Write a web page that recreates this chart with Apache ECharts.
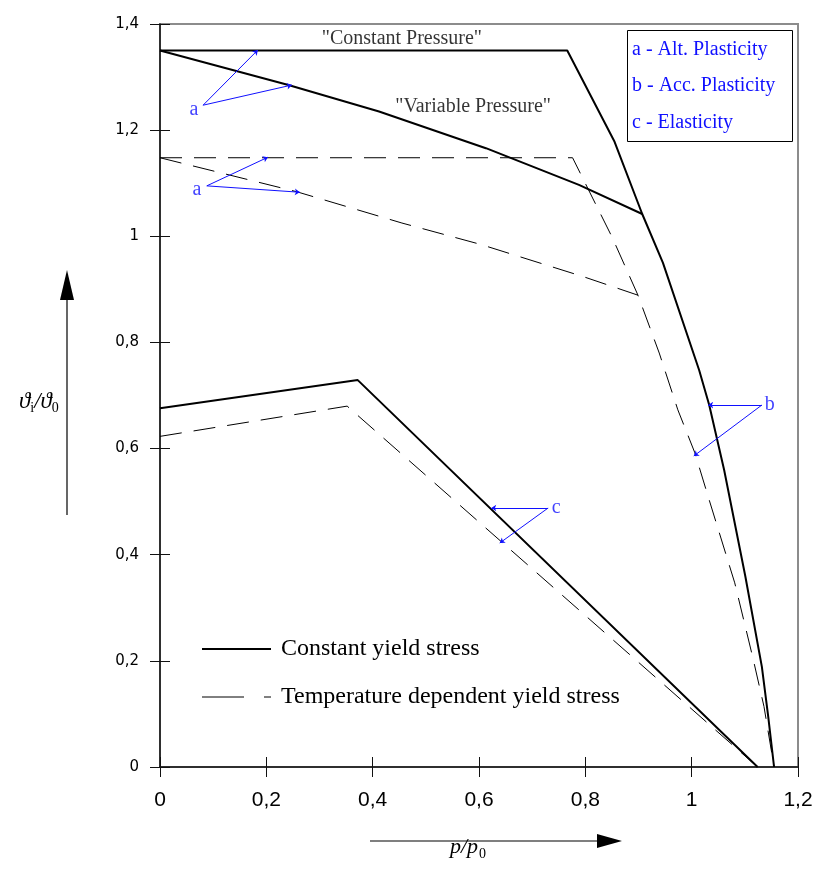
<!DOCTYPE html>
<html><head><meta charset="utf-8">
<script src="https://cdn.jsdelivr.net/npm/echarts@6/dist/echarts.min.js"></script>
<style>html,body{margin:0;padding:0;background:#fff}#c{width:817px;height:876px}</style>
</head><body><div id="c"></div>
<script>
// axis ranges (p/p0 on x, theta_i/theta_0 on y)
const xRange = [0, 1.2];
const yRange = [0, 1.4];
const tickStep = 0.2;

// Constant yield stress (solid)
const solidConstantPressure = [[0,1.35],[0.766,1.35],[0.855,1.178],[0.907,1.042],[0.946,0.95],[1.014,0.748],[1.033,0.682],[1.061,0.56],[1.101,0.359],[1.132,0.189],[1.144,0.095],[1.155,0]];
const solidVariablePressure = [[0,1.35],[0.2415,1.285],[0.412,1.235],[0.613,1.166],[0.788,1.097],[0.907,1.042]];
const solidElasticity = [[0,0.676],[0.372,0.729],[1.124,0]];

// Temperature dependent yield stress (dashed)
const dashedConstantPressure = [[0,1.148],[0.776,1.148],[0.851,0.997],[0.899,0.889],[0.939,0.78],[0.974,0.673],[1.006,0.592],[1.033,0.503],[1.081,0.347],[1.116,0.202],[1.136,0.114],[1.155,0]];
const dashedVariablePressure = [[0,1.148],[0.257,1.084],[0.455,1.025],[0.602,0.985],[0.796,0.924],[0.899,0.889]];
const dashedElasticity = [[0,0.623],[0.352,0.68],[1.124,0]];

// legend names
const seriesNames = ['Constant yield stress', 'Temperature dependent yield stress'];

// curve captions [text, x, y]
const curveCaptions = [['"Constant Pressure"', 0.455, 1.372], ['"Variable Pressure"', 0.589, 1.244]];

// regime letters [letter, x, y]
const regimeLetters = [['a',0.064,1.238],['a',0.0696,1.087],['b',1.147,0.682],['c',0.745,0.488]];
// pointer arrows [[from],[to]]
const regimeArrows = [
  [[0.081,1.247],[0.184,1.351]], [[0.081,1.247],[0.248,1.285]],
  [[0.088,1.095],[0.203,1.149]], [[0.088,1.095],[0.263,1.083]],
  [[1.132,0.682],[1.031,0.682]], [[1.132,0.682],[1.004,0.586]],
  [[0.730,0.488],[0.623,0.488]], [[0.730,0.488],[0.639,0.422]]
];
// key box lines
const regimeKey = ['a - Alt. Plasticity', 'b - Acc. Plasticity', 'c - Elasticity'];

const SERIF = 'Liberation Serif, Times New Roman, serif';
const BLUE = '#1010ff';
const fmt = v => String(+(+v).toFixed(1)).replace('.', ',');

function curve(name, data, dashed) {
  return {
    type: 'line', name: name, data: data, symbol: 'none', z: 3,
    lineStyle: dashed ? {color:'#000', width:1, type:[22,12]} : {color:'#000', width:2, type:'solid'},
    itemStyle: {color:'#000'}
  };
}

const chart = echarts.init(document.getElementById('c'), null, {renderer:'canvas'});
chart.setOption({
  animation: false,
  backgroundColor: '#fff',
  grid: {left:160, right:19, top:24, bottom:109, show:true, borderColor:'#8c8c8c', borderWidth:2, backgroundColor:'transparent'},
  title: {
    text: regimeKey.join('\n'),
    left: 627, top: 30,
    padding: [1, 17, 1, 5],
    borderColor: '#000', borderWidth: 1, backgroundColor:'#fff',
    textStyle: {color: BLUE, fontFamily: SERIF, fontSize: 20, fontWeight:'normal', lineHeight: 36.5}
  },
  legend: {
    orient: 'vertical', left: 201, top: 636, padding: 0, itemWidth: 69, itemHeight: 14, itemGap: 22,
    textStyle: {fontFamily: SERIF, fontSize: 24, color:'#000', lineHeight: 26, padding:[0,0,0,5]},
    data: [
      {name: seriesNames[0], itemStyle:{opacity:0, borderWidth:0}, lineStyle:{color:'#000', width:2, type:'solid'}},
      {name: seriesNames[1], itemStyle:{opacity:0, borderWidth:0}, lineStyle:{color:'#000', width:1, type:[42,20]}}
    ]
  },
  xAxis: [
    {type:'value', min:xRange[0], max:xRange[1], interval:tickStep,
     axisLine:{show:true, onZero:false, lineStyle:{color:'#111', width:1.5}},
     axisTick:{show:true, inside:false, length:10, lineStyle:{color:'#111', width:1}},
     axisLabel:{margin:23, formatter:fmt, fontFamily:'Liberation Sans Narrow, Arial Narrow, Liberation Sans, sans-serif', fontSize:21, color:'#000'},
     splitLine:{show:false}},
    {type:'value', position:'bottom', min:xRange[0], max:xRange[1], interval:tickStep,
     axisLine:{show:false, onZero:false}, axisTick:{show:true, inside:true, length:10, lineStyle:{color:'#111', width:1}},
     axisLabel:{show:false}, splitLine:{show:false}}
  ],
  yAxis: [
    {type:'value', min:yRange[0], max:yRange[1], interval:tickStep,
     axisLine:{show:true, onZero:false, lineStyle:{color:'#111', width:1.5}},
     axisTick:{show:true, inside:false, length:10, lineStyle:{color:'#111', width:1}},
     axisLabel:{margin:21, formatter:fmt, fontFamily:'DejaVu Sans, sans-serif', fontSize:15, color:'#000'},
     splitLine:{show:false}},
    {type:'value', position:'left', min:yRange[0], max:yRange[1], interval:tickStep,
     axisLine:{show:false, onZero:false}, axisTick:{show:true, inside:true, length:10, lineStyle:{color:'#111', width:1}},
     axisLabel:{show:false}, splitLine:{show:false}}
  ],
  series: [
    curve(seriesNames[0], solidConstantPressure, false),
    curve(seriesNames[0], solidVariablePressure, false),
    curve(seriesNames[0], solidElasticity, false),
    curve(seriesNames[1], dashedConstantPressure, true),
    curve(seriesNames[1], dashedVariablePressure, true),
    curve(seriesNames[1], dashedElasticity, true),
    {type:'lines', coordinateSystem:'cartesian2d', z:4, symbol:['none','arrow'], symbolSize:5,
     lineStyle:{color:BLUE, width:1, opacity:1, curveness:0},
     data: regimeArrows.map(a => ({coords: a}))},
    {type:'scatter', z:5, symbolSize:0, silent:true,
     data: regimeLetters.map(r => ({name:r[0], value:[r[1], r[2]]})),
     label:{show:true, position:'inside', formatter: p => p.name, color:BLUE, fontFamily:SERIF, fontSize:20}},
    {type:'scatter', z:5, symbolSize:0, silent:true,
     data: curveCaptions.map(r => ({name:r[0], value:[r[1], r[2]]})),
     label:{show:true, position:'inside', formatter: p => p.name, color:'#000', fontFamily:SERIF, fontSize:20}}
  ],
  graphic: [
    {type:'line', shape:{x1:370, y1:841, x2:597, y2:841}, style:{stroke:'#000', lineWidth:1.2}},
    {type:'polygon', shape:{points:[[597,834],[597,848],[622,841]]}, style:{fill:'#000'}},
    {type:'text', left: 450, top: 836, style:{
      text:'{i|p/p}{s|0}',
      rich:{ i:{fontFamily:SERIF, fontStyle:'italic', fontSize:22, fill:'#000'},
             s:{fontFamily:SERIF, fontSize:14, fill:'#000', padding:[14,0,0,1]} } }},
    {type:'line', shape:{x1:67, y1:515, x2:67, y2:300}, style:{stroke:'#000', lineWidth:1.2}},
    {type:'polygon', shape:{points:[[60,300],[74,300],[67,270]]}, style:{fill:'#000'}},
    {type:'text', left: 19, top: 390, style:{
      text:'{i|ϑ}{s|i}{i|/ϑ}{s|0}',
      rich:{ i:{fontFamily:SERIF, fontStyle:'italic', fontSize:23, fill:'#000'},
             s:{fontFamily:SERIF, fontSize:14, fill:'#000', padding:[13,0,0,0]} } }}
  ]
});
</script></body></html>
